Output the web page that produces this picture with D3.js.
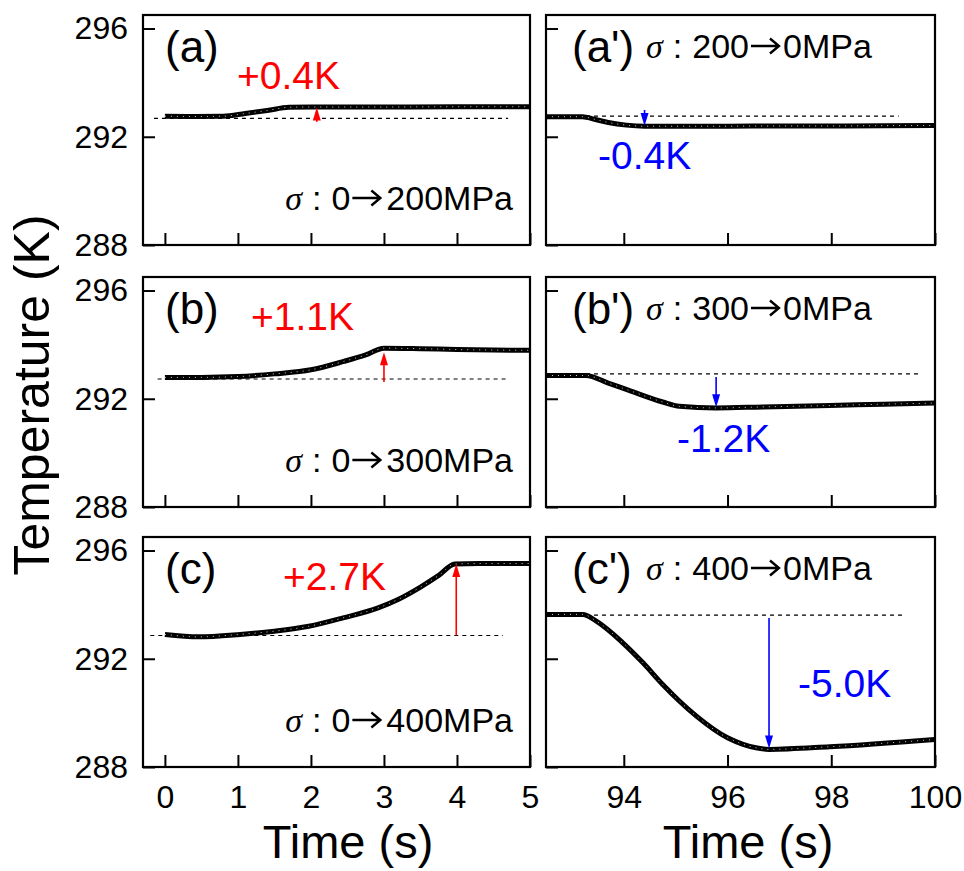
<!DOCTYPE html>
<html>
<head>
<meta charset="utf-8">
<script src="https://cdn.jsdelivr.net/npm/d3@7"></script>
<style>
    body { margin: 0; background: #fff; }
    text { font-family: "Liberation Sans", Arial, sans-serif; fill: #000; }
</style>
</head>
<body>
<div id="chart"></div>
<script>
// tick values
const loadTicks = [0, 1, 2, 3, 4, 5];
const unloadTicks = [94, 96, 98, 100];
const tempTicks = [288, 292, 296];

// (a) 0 -> 200MPa
const timeA = [0, 0.4, 0.8, 1.1, 1.4, 1.7, 2, 3, 4, 5];
const tempA = [292.76, 292.75, 292.76, 292.86, 292.97, 293.09, 293.1, 293.1, 293.11, 293.11];
// (a') 200 -> 0MPa
const timeA2 = [92.5, 93.2, 93.45, 93.7, 94.05, 94.4, 95, 96, 97, 98, 99, 100];
const tempA2 = [292.74, 292.74, 292.64, 292.53, 292.43, 292.39, 292.39, 292.39, 292.4, 292.4, 292.41, 292.42];
// (b) 0 -> 300MPa
const timeB = [0, 0.5, 1.0, 1.5, 2.0, 2.45, 2.75, 3.0, 3.5, 4, 4.5, 5];
const tempB = [292.79, 292.79, 292.82, 292.92, 293.07, 293.38, 293.62, 293.87, 293.85, 293.82, 293.8, 293.79];
// (b') 300 -> 0MPa
const timeB2 = [92.5, 93.27, 93.7, 94.1, 94.75, 95.07, 95.78, 96.68, 97.97, 99, 100];
const tempB2 = [292.86, 292.86, 292.58, 292.31, 291.88, 291.72, 291.66, 291.7, 291.75, 291.8, 291.84];
// (c) 0 -> 400MPa
const timeC = [0, 0.46, 1.03, 1.5, 1.97, 2.44, 2.92, 3.2, 3.5, 3.75, 3.97, 4.3, 5];
const tempC = [292.9, 292.81, 292.9, 293.02, 293.2, 293.51, 293.88, 294.2, 294.65, 295.08, 295.5, 295.52, 295.52];
// (c') 400 -> 0MPa
const timeC2 = [92.5, 93.21, 93.47, 93.98, 94.37, 94.75, 95.07, 95.4, 96.0, 96.3, 96.55, 96.8, 97.97, 100];
const tempC2 = [293.64, 293.64, 293.39, 292.59, 291.85, 291.05, 290.44, 289.88, 289.08, 288.84, 288.71, 288.65, 288.75, 289.02];

// dashed reference level, its time span, arrow time and arrow ends
const baseTemp = [292.68, 292.76, 292.73, 292.92, 292.86, 293.61];
const baseFrom = [-0.15, 92.5, -0.1, 92.5, -0.2, 92.5];
const baseTo = [4.7, 99.3, 4.7, 99.75, 4.63, 99.4];
const arrowTime = [2.08, 94.4, 3.0, 95.78, 3.99, 96.8];
const arrowFrom = [292.55, 292.99, 292.62, 292.8, 292.86, 293.51];
const arrowTo = [293.08, 292.4, 293.72, 291.69, 295.5, 288.68];

const deltaText = ['+0.4K', '-0.4K', '+1.1K', '-1.2K', '+2.7K', '-5.0K'];
const panelText = ['(a)', "(a')", '(b)', "(b')", '(c)', "(c')"];
const stressFrom = ['0', '200', '0', '300', '0', '400'];
const stressTo = ['200MPa', '0MPa', '300MPa', '0MPa', '400MPa', '0MPa'];

document.addEventListener("DOMContentLoaded", function () {
    const width = 964, height = 871;

    const colX = [143, 546], colW = [387, 389];
    const rowY = [15, 277, 537], panelH = 230;

    //delta label offsets inside each panel
    const deltaPos = [[94, 74], [52, 154], [108, 53], [131, 175], [140, 53], [252, 160]];

    const series = [
        [timeA, tempA], [timeA2, tempA2],
        [timeB, tempB], [timeB2, tempB2],
        [timeC, tempC], [timeC2, tempC2]
    ];

    const svg = d3.select('#chart')
        .append('svg')
        .attr('width', width)
        .attr('height', height);

    svg.append('rect').attr('width', width).attr('height', height).attr('fill', '#fff');

    const y = d3.scaleLinear().domain([288, 296.5]).range([panelH, 0]);

    //"σ : a → b" with a drawn arrow
    const stressFont = '34px';
    function stressLabel(g, x0, yb, from, to, alignEnd) {
        const arrowW = 28, gap = 4;
        function part1(xx) {
            const t = g.append('text').attr('x', xx).attr('y', yb)
                .attr('text-anchor', alignEnd ? 'end' : 'start')
                .style('font-size', stressFont);
            t.append('tspan')
                .style('font-family', '"Liberation Serif", serif')
                .style('font-style', 'italic')
                .text('σ');
            t.append('tspan').attr('dx', 10).text(':');
            t.append('tspan').attr('dx', 10).text(from);
            return t;
        }
        function drawArrow(xl) {
            const ym = yb - 12;
            g.append('path')
                .attr('d', 'M' + xl + ',' + ym + 'H' + (xl + arrowW) +
                    'M' + (xl + arrowW - 9) + ',' + (ym - 7.5) + 'L' + (xl + arrowW) + ',' + ym +
                    'L' + (xl + arrowW - 9) + ',' + (ym + 7.5))
                .attr('fill', 'none')
                .attr('stroke', '#000')
                .attr('stroke-width', 2.4);
        }
        if (alignEnd) {
            const t2 = g.append('text').attr('x', x0).attr('y', yb)
                .attr('text-anchor', 'end').style('font-size', stressFont).text(to);
            const xr = x0 - t2.node().getComputedTextLength() - gap - 2;
            drawArrow(xr - arrowW);
            part1(xr - arrowW - 2);
        } else {
            const t1 = part1(x0);
            const xl = x0 + t1.node().getComputedTextLength() + 20 + 2;
            drawArrow(xl);
            g.append('text').attr('x', xl + arrowW + gap).attr('y', yb)
                .style('font-size', stressFont).text(to);
        }
    }

    series.forEach(function (s, i) {
        const row = Math.floor(i / 2), col = i % 2;
        const x = col === 0
            ? d3.scaleLinear().domain([-0.3, 5]).range([0, colW[0]])
            : d3.scaleLinear().domain([92.5, 100]).range([0, colW[1]]);
        const color = col === 0 ? '#ff0000' : '#0000ff';

        const g = svg.append('g')
            .attr('transform', 'translate(' + colX[col] + ',' + rowY[row] + ')');

        //axes, ticks inward
        const yAxis = d3.axisLeft(y)
            .tickValues(tempTicks)
            .tickSize(-12)
            .tickPadding(15)
            .tickFormat(col === 0 ? d3.format('d') : '');
        const yAxisG = g.append('g').call(yAxis);
        yAxisG.select('.domain').remove();

        const xAxis = d3.axisBottom(x)
            .tickValues(col === 0 ? loadTicks : unloadTicks)
            .tickSize(-12)
            .tickPadding(18)
            .tickFormat(row === 2 ? d3.format('d') : '');
        const xAxisG = g.append('g').call(xAxis)
            .attr('transform', 'translate(0,' + panelH + ')');
        xAxisG.select('.domain').remove();

        g.selectAll('.tick line').attr('stroke', '#000').attr('stroke-width', 2);
        g.selectAll('.tick text')
            .style('font-family', '"Liberation Sans", Arial, sans-serif')
            .style('font-size', '32px')
            .attr('fill', '#000');

        //reference level
        g.append('line')
            .attr('x1', x(baseFrom[i])).attr('x2', x(baseTo[i]))
            .attr('y1', y(baseTemp[i])).attr('y2', y(baseTemp[i]))
            .attr('stroke', '#000')
            .attr('stroke-width', 1.2)
            .attr('stroke-dasharray', '4,4');

        //measured curve
        const pts = s[0].map(function (t, k) { return [t, s[1][k]]; });
        const line = d3.line()
            .x(function (d) { return x(d[0]); })
            .y(function (d) { return y(d[1]); })
            .curve(d3.curveMonotoneX);
        g.append('path')
            .datum(pts)
            .attr('fill', 'none')
            .attr('stroke', '#000')
            .attr('stroke-width', 5)
            .attr('d', line);
        g.append('path')
            .datum(pts)
            .attr('fill', 'none')
            .attr('stroke', '#fff')
            .attr('stroke-width', 1)
            .attr('stroke-dasharray', '1,5')
            .attr('opacity', 0.8)
            .attr('d', line);

        //arrow
        const ax = x(arrowTime[i]), y0 = y(arrowFrom[i]), y1 = y(arrowTo[i]);
        const dir = y1 < y0 ? 1 : -1;
        const headL = 13, headW = 4;
        g.append('line')
            .attr('x1', ax).attr('x2', ax)
            .attr('y1', y0).attr('y2', y1 + dir * headL * 0.6)
            .attr('stroke', color)
            .attr('stroke-width', 1.6);
        g.append('path')
            .attr('d', 'M' + ax + ',' + y1 + 'L' + (ax - headW) + ',' + (y1 + dir * headL) +
                'L' + (ax + headW) + ',' + (y1 + dir * headL) + 'Z')
            .attr('fill', color);

        //frame
        g.append('rect')
            .attr('width', colW[col])
            .attr('height', panelH)
            .attr('fill', 'none')
            .attr('stroke', '#000')
            .attr('stroke-width', 2.2);

        //labels
        g.append('text')
            .attr('x', col === 0 ? 22 : 26)
            .attr('y', 47)
            .style('font-size', '44px')
            .text(panelText[i]);

        g.append('text')
            .attr('x', deltaPos[i][0])
            .attr('y', deltaPos[i][1])
            .style('font-size', '39px')
            .style('fill', color)
            .text(deltaText[i]);

        stressLabel(g, col === 0 ? colW[0] - 17 : 100, col === 0 ? 195 : 43,
            stressFrom[i], stressTo[i], col === 0);
    });

    //axis titles
    svg.append('text')
        .attr('transform', 'translate(49,395) rotate(-90)')
        .attr('text-anchor', 'middle')
        .style('font-size', '50px')
        .text('Temperature (K)');

    svg.append('text')
        .attr('x', 348).attr('y', 858)
        .attr('text-anchor', 'middle')
        .style('font-size', '47px')
        .text('Time (s)');
    svg.append('text')
        .attr('x', 748).attr('y', 858)
        .attr('text-anchor', 'middle')
        .style('font-size', '47px')
        .text('Time (s)');
});
</script>
</body>
</html>
